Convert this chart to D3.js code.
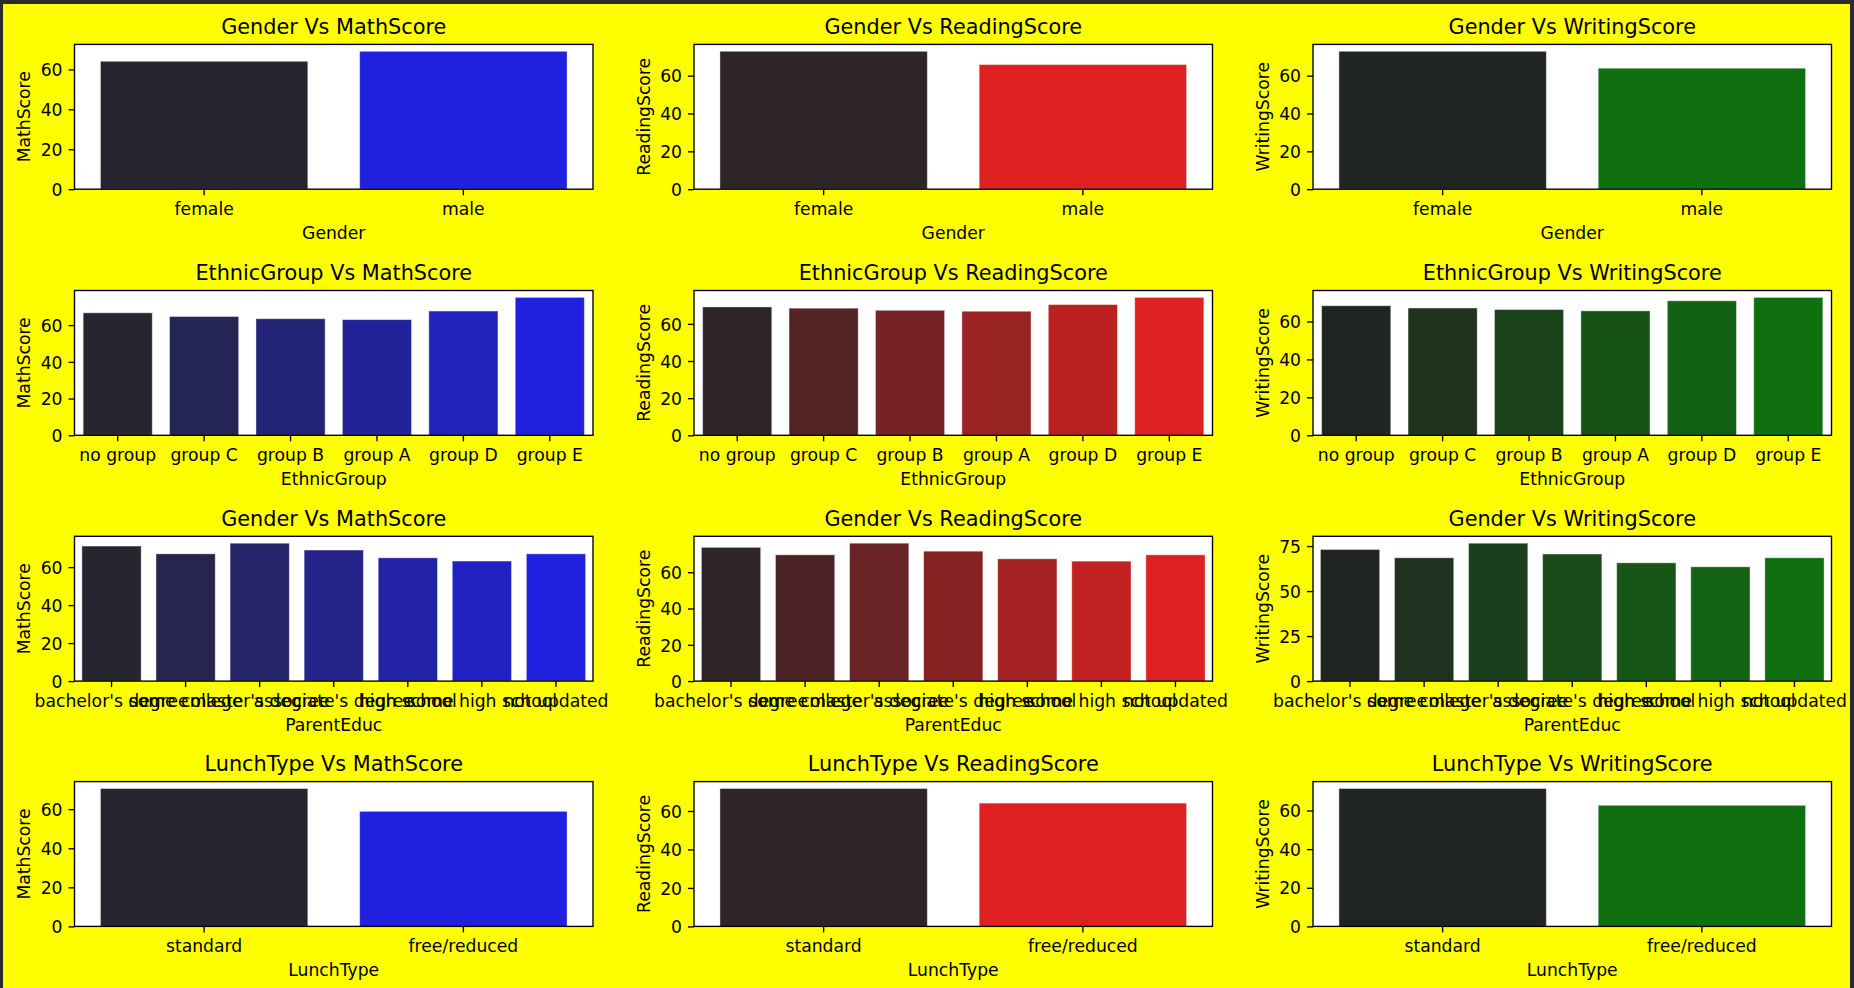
<!DOCTYPE html>
<html><head><meta charset="utf-8">
<script src="https://cdn.jsdelivr.net/npm/d3@7"></script>
<style>
html,body{margin:0;padding:0;background:#2b2b2b;}
svg{display:block;}
text{font-family:"DejaVu Sans",sans-serif;fill:#000;}
</style></head><body>
<svg id="c" width="1854" height="988"></svg>
<script>
// ---------- data ----------
const genderCats = ["female", "male"];
const ethnicCats = ["no group", "group C", "group B", "group A", "group D", "group E"];
const educCats = ["bachelor's degree", "some college", "master's degree", "associate's degree", "high school", "some high school", "not updated"];
const lunchCats = ["standard", "free/reduced"];

const genderMath = [64.08, 69.07];
const genderReading = [72.85, 65.85];
const genderWriting = [72.86, 63.92];

const ethnicMath = [66.7, 64.69, 63.49, 62.99, 67.67, 75.1];
const ethnicReading = [69.1, 68.44, 67.32, 66.79, 70.38, 74.25];
const ethnicWriting = [68.3, 67.1, 66.3, 65.6, 70.9, 72.7];

const educMath = [71.1, 67.0, 72.6, 69.0, 64.9, 63.2, 67.0];
const educReading = [73.7, 69.6, 76.0, 71.6, 67.4, 66.1, 69.6];
const educWriting = [73.1, 68.5, 76.6, 70.6, 65.7, 63.5, 68.5];

const lunchMath = [70.6, 58.9];
const lunchReading = [71.7, 64.1];
const lunchWriting = [71.4, 62.7];

const ticksA = [0, 20, 40, 60];
const ticksB = [0, 25, 50, 75];

const scoreNames = ["MathScore", "ReadingScore", "WritingScore"];
const rowNames = ["Gender", "EthnicGroup", "Gender", "LunchType"];
const rowXLabels = ["Gender", "EthnicGroup", "ParentEduc", "LunchType"];

// ---------- styling ----------
const W = 1854, H = 988;
const colLeft = [74.5, 694, 1313];
const axW = 518.5;
const rowTop = [44.4, 290.5, 536.3, 781.6];
const axH = 144.8;
const fTick = 17.2, fTitle = 20.8;
const spineW = 1.37, tickLen = 6, tickPad = 7;

// palette endpoints (colour of first bar as displayed, and base hue)
const darkEnds = ["#262630", "#2f2526", "#212522"];
const lightEnds = ["#0000ff", "#ff0000", "#008000"];

function desat(c, f) { const h = d3.hsl(c); h.s *= f; return h.rgb(); }
function palette(i, n) {
  const dpre = d3.hsl(darkEnds[i]); dpre.s = Math.min(1, dpre.s / 0.75);
  const a = dpre.rgb(), b = d3.rgb(lightEnds[i]);
  const out = [];
  for (let k = 0; k < n; k++) {
    const t = n === 1 ? 0 : k / (n - 1);
    const c = d3.rgb(a.r + (b.r - a.r) * t, a.g + (b.g - a.g) * t, a.b + (b.b - a.b) * t);
    out.push(desat(c, 0.75).formatHex());
  }
  return out;
}

const rows = [
  { cats: genderCats, vals: [genderMath, genderReading, genderWriting], ticks: [ticksA, ticksA, ticksA] },
  { cats: ethnicCats, vals: [ethnicMath, ethnicReading, ethnicWriting], ticks: [ticksA, ticksA, ticksA] },
  { cats: educCats, vals: [educMath, educReading, educWriting], ticks: [ticksA, ticksA, ticksB] },
  { cats: lunchCats, vals: [lunchMath, lunchReading, lunchWriting], ticks: [ticksA, ticksA, ticksA] },
];

const svg = d3.select("#c");
// frame
svg.append("rect").attr("x", 0).attr("y", 0).attr("width", W).attr("height", H).attr("fill", "#2b2b2b");
svg.append("rect").attr("x", 3).attr("y", 4).attr("width", W - 7).attr("height", H - 4).attr("fill", "#ffff00");

rows.forEach((row, r) => {
  for (let c = 0; c < 3; c++) {
    const vals = row.vals[c];
    const x0 = colLeft[c], y0 = rowTop[r];
    const g = svg.append("g").attr("transform", `translate(${x0},${y0})`);
    const x = d3.scaleBand().domain(row.cats).range([0, axW]).paddingInner(0.2).paddingOuter(0.1);
    const y = d3.scaleLinear().domain([0, d3.max(vals) * 1.05]).range([axH, 0]);
    const cols = palette(c, row.cats.length);

    g.append("rect").attr("width", axW).attr("height", axH).attr("fill", "#fff");

    g.selectAll("rect.bar").data(row.cats).join("rect").attr("class", "bar")
      .attr("x", d => x(d)).attr("width", x.bandwidth())
      .attr("y", (d, i) => y(vals[i])).attr("height", (d, i) => axH - y(vals[i]))
      .attr("fill", (d, i) => cols[i])
      .attr("stroke", "rgba(255,255,255,0.45)").attr("stroke-width", 0.9);

    // spines
    g.append("rect").attr("width", axW).attr("height", axH).attr("fill", "none")
      .attr("stroke", "#000").attr("stroke-width", spineW);

    // x axis
    const xa = d3.axisBottom(x).tickSize(tickLen).tickPadding(tickPad).tickSizeOuter(0);
    const gx = g.append("g").attr("transform", `translate(0,${axH})`).call(xa);
    gx.select(".domain").remove();
    gx.selectAll(".tick line").attr("stroke", "#000").attr("stroke-width", spineW);
    gx.selectAll(".tick text").attr("font-size", fTick).attr("font-family", "DejaVu Sans").attr("fill", "#000").attr("dy", "0.76em");

    // y axis
    const ya = d3.axisLeft(y).tickValues(row.ticks[c]).tickSize(tickLen).tickPadding(6).tickSizeOuter(0);
    const gy = g.append("g").call(ya);
    gy.select(".domain").remove();
    gy.selectAll(".tick line").attr("stroke", "#000").attr("stroke-width", spineW);
    gy.selectAll(".tick text").attr("font-size", fTick).attr("font-family", "DejaVu Sans").attr("fill", "#000").attr("dy", "0.36em");

    // labels
    g.append("text").attr("x", axW / 2).attr("y", axH + 49.5).attr("text-anchor", "middle")
      .attr("font-size", fTick).text(rowXLabels[r]);
    g.append("text").attr("transform", `translate(-44.5,${axH / 2}) rotate(-90)`).attr("text-anchor", "middle")
      .attr("font-size", fTick).text(scoreNames[c]);
    g.append("text").attr("x", axW / 2).attr("y", -10.5).attr("text-anchor", "middle")
      .attr("font-size", fTitle).text(`${rowNames[r]} Vs ${scoreNames[c]}`);
  }
});
</script></body></html>
